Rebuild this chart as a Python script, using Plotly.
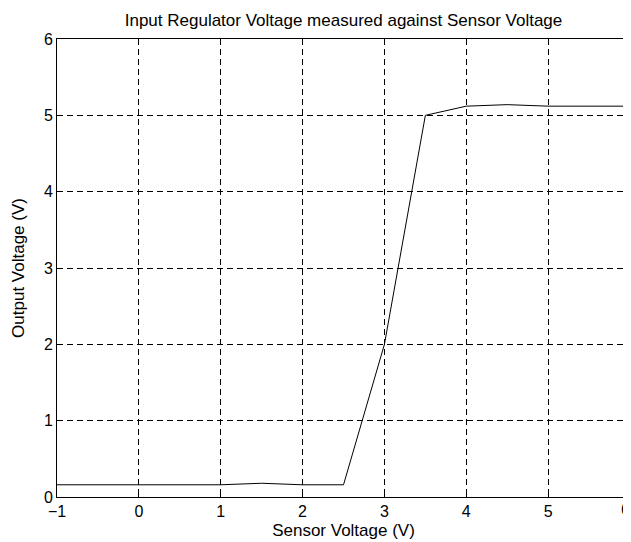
import plotly.graph_objects as go

sensor_v = [-1, -0.5, 0, 0.5, 1, 1.5, 2, 2.5, 3, 3.5, 4, 4.5, 5, 5.5, 6]
output_v = [0.16, 0.16, 0.16, 0.16, 0.16, 0.18, 0.16, 0.16, 2.0, 5.0, 5.12, 5.14, 5.12, 5.12, 5.12]

x_ticks = [-1, 0, 1, 2, 3, 4, 5, 6]
y_ticks = [0, 1, 2, 3, 4, 5, 6]

fig = go.Figure()
fig.add_trace(go.Scatter(x=sensor_v, y=output_v, mode="lines",
                         line=dict(color="black", width=1), showlegend=False))

FAM = "Liberation Sans, Arial, Helvetica, sans-serif"
tick_font = dict(family=FAM, size=16, color="black")
lab_font = dict(family=FAM, size=17, color="black")
axis_common = dict(
    showline=True, linecolor="black", linewidth=1, mirror="ticks",
    ticks="inside", ticklen=5, tickcolor="black",
    showgrid=True, gridcolor="black", gridwidth=1, griddash="6px,4px",
    zeroline=False, tickfont=tick_font, automargin=False,
)
# page body has an 8px margin: figure is sized/positioned to compensate
fig.update_layout(
    width=623, height=534,
    margin=dict(l=49, r=1, t=31, b=45),
    paper_bgcolor="white", plot_bgcolor="white",
    font=lab_font,
    title=dict(text="Input Regulator Voltage measured against Sensor Voltage",
               x=0.5, xref="paper", xanchor="center", y=1 - 12/534, yanchor="middle",
               font=dict(family=FAM, size=17, color="black")),
    xaxis=dict(range=[-1, 6], tickvals=x_ticks,
               title=dict(text="Sensor Voltage (V)", standoff=4, font=lab_font), **axis_common),
    yaxis=dict(range=[0, 6], tickvals=y_ticks,
               title=dict(text="Output Voltage (V)", standoff=14, font=lab_font), **axis_common),
)
# last x tick label sits at the page edge; anchor it right so it stays visible
fig.add_annotation(x=x_ticks[-1], xref="x", y=0, yref="paper", yanchor="top",
                   xanchor="right", xshift=1, yshift=-3, text=str(x_ticks[-1]),
                   showarrow=False, font=tick_font, borderpad=0)
fig.write_html("out.html")
